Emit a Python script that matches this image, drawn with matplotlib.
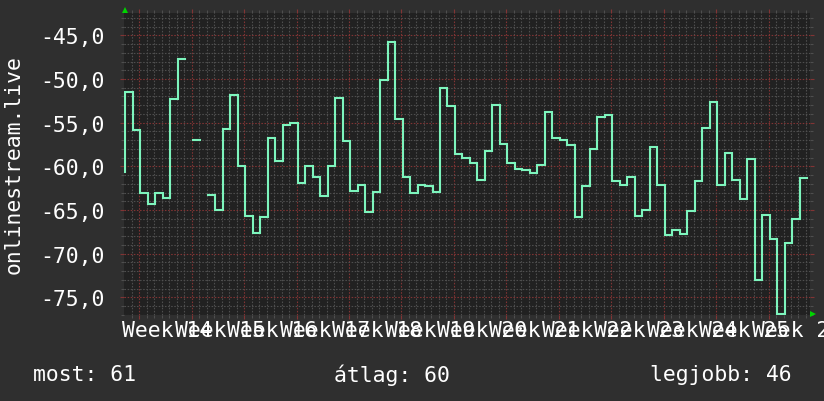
import numpy as np
import matplotlib
matplotlib.use("Agg")
import matplotlib.pyplot as plt
from matplotlib.lines import Line2D
from matplotlib.ticker import FuncFormatter

# ---------------- data ----------------
# one value per day; first entry is the day before the visible range
values = [
    -60.70,
    -51.46, -55.81, -63.10, -64.29, -63.10, -63.60, -52.26, -47.68, np.nan, -56.96,
    np.nan, -63.26, -64.97, -55.70, -51.84, -59.93, -65.70, -67.61, -65.78, -56.73,
    -59.40, -55.24, -55.05, -61.88, -59.93, -61.19, -63.41, -59.93, -52.18, -57.11,
    -62.84, -62.11, -65.20, -62.91, -50.08, -45.73, -54.55, -61.19, -63.03, -62.11,
    -62.22, -62.91, -51.00, -53.06, -58.56, -59.02, -59.59, -61.54, -58.22, -52.98,
    -57.42, -59.59, -60.28, -60.39, -60.74, -59.89, -53.79, -56.73, -56.96, -57.60,
    -65.81, -62.22, -58.02, -54.36, -54.13, -61.65, -62.11, -61.19, -65.70, -64.97,
    -57.76, -62.11, -67.88, -67.27, -67.72, -65.09, -61.69, -55.66, -52.60, -62.11,
    -58.45, -61.54, -63.71, -59.17, -72.99, -65.58, -68.30, -76.90, -68.79, -65.99,
    -61.34,
]
week_labels = ["Week 14", "Week 15", "Week 16", "Week 17", "Week 18", "Week 19",
               "Week 20", "Week 21", "Week 22", "Week 23", "Week 24", "Week 25",
               "Week 26"]
y_major = [-75, -70, -65, -60, -55, -50, -45]
y_label = "onlinestream.live"
stat_most = 61
stat_avg = 60
stat_best = 46

# ---------------- style ----------------
FIG_BG = "#2f2f2f"
PLOT_BG = "#212121"
LINE_C = "#7df5bd"
MINOR_C = "#4e4e4e"
MAJOR_C = "#813434"
TXT_C = "#ffffff"
ARROW_C = "#00d400"
FONT = "DejaVu Sans Mono"
FS = 15.4

plt.rcParams["font.family"] = [FONT, "DejaVu Sans"]

W, H = 824, 402
fig = plt.figure(figsize=(W / 100, H / 100), dpi=100, facecolor=FIG_BG)
L, R, T, B = 124.5, 809.5, 14, 316
ax = fig.add_axes([L / W, 1 - B / H, (R - L) / W, (B - T) / H])
ax.set_facecolor(PLOT_BG)

n = len(values)
xs = np.arange(-1, n)          # day edges
ys = values + [values[-1]]
ax.plot(xs, ys, drawstyle="steps-post", color=LINE_C, lw=1.5, zorder=3,
        solid_joinstyle="miter")

first_week = 1.86
weeks = first_week + 7 * np.arange(len(week_labels))
days = first_week + np.arange(-2, n)
ax.set_xticks(weeks)
ax.set_xticklabels([])
ax.set_xticks(days, minor=True)
ax.set_yticks(y_major)
ax.set_yticks(np.arange(-77, -42), minor=True)
ax.yaxis.set_major_formatter(FuncFormatter(lambda v, p: f"{v:.1f}".replace(".", ",")))

ax.set_axisbelow(True)
ax.grid(which="minor", color=MINOR_C, ls=(0, (1.4, 1.4)), lw=0.8)
ax.grid(which="major", color=MAJOR_C, ls=(0, (1.4, 1.4)), lw=0.8)
for s in ax.spines.values():
    s.set_visible(False)

ax.tick_params(which="major", direction="out", length=3, width=0.8,
               color=MAJOR_C, labelcolor=TXT_C, labelsize=FS, pad=11,
               top=True, right=True)
ax.tick_params(which="minor", direction="out", length=2, width=0.8,
               color=MINOR_C, top=True, right=True)
for lab in ax.get_yticklabels():
    lab.set_family(FONT)

# week labels, centred on the week spans
sec = ax.secondary_xaxis("bottom")
sec.set_xticks(weeks + 3.75, week_labels)
sec.tick_params(length=0, labelsize=FS, labelcolor=TXT_C, pad=3.5)
sec.spines["bottom"].set_visible(False)

# limits last (set_xticks may widen the view)
ax.set_xlim(-0.12, 91.33)
ax.set_ylim(-77.02, -42.44)

ax.set_ylabel(y_label, color=TXT_C, fontsize=FS, family=FONT)
ax.yaxis.label.set_va("center")
ax.yaxis.set_label_coords((14 - L) / (R - L), 0.5)

# axis arrows
fig.add_artist(Line2D([125 / W], [1 - 10.5 / H], marker="^", color=ARROW_C,
                      ms=4.5, mew=0, transform=fig.transFigure))
fig.add_artist(Line2D([812.5 / W], [1 - 315 / H], marker=">", color=ARROW_C,
                      ms=4.5, mew=0, transform=fig.transFigure))

# statistics line
ty = 1 - 375 / H
fig.text(33 / W, ty, f"most: {stat_most}", color=TXT_C, fontsize=FS, family=FONT, va="center")
fig.text(334 / W, ty, f"átlag: {stat_avg}", color=TXT_C, fontsize=FS, family=FONT, va="center")
fig.text(650 / W, ty, f"legjobb: {stat_best}", color=TXT_C, fontsize=FS, family=FONT, va="center")

fig.savefig("out.png", dpi=100, facecolor=FIG_BG)
